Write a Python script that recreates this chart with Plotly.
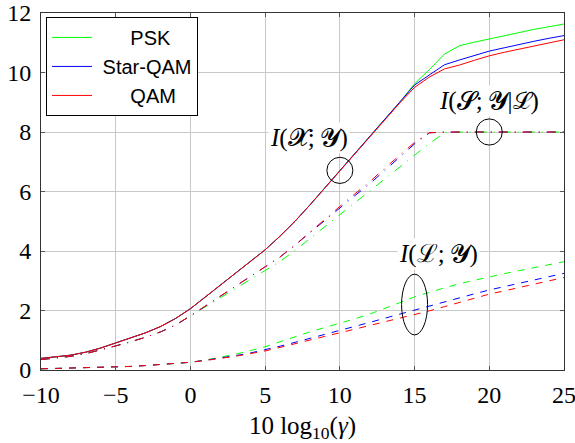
import plotly.graph_objects as go

# SNR axis in dB: 10 log10(gamma)
snr_db = list(range(-10, 26))

# I(X;Y): total mutual information (solid)
mi_total_psk = [0.39, 0.44, 0.50, 0.60, 0.74, 0.91, 1.07, 1.25, 1.46, 1.73,
                2.06, 2.45, 2.85, 3.23, 3.63, 4.04, 4.50, 5.00, 5.55, 6.12,
                6.72, 7.28, 7.84, 8.40, 9.00, 9.62, 10.10, 10.62, 10.90, 11.02,
                11.13, 11.24, 11.35, 11.45, 11.54, 11.63]
mi_total_star = [0.39, 0.44, 0.50, 0.60, 0.74, 0.91, 1.07, 1.25, 1.46, 1.73,
                 2.06, 2.45, 2.85, 3.23, 3.63, 4.04, 4.50, 5.00, 5.55, 6.12,
                 6.72, 7.28, 7.84, 8.40, 9.00, 9.58, 9.92, 10.26, 10.42, 10.57,
                 10.72, 10.83, 10.95, 11.05, 11.15, 11.24]
mi_total_qam = [0.39, 0.44, 0.50, 0.60, 0.74, 0.91, 1.07, 1.25, 1.46, 1.73,
                2.06, 2.45, 2.85, 3.23, 3.63, 4.04, 4.50, 5.00, 5.55, 6.12,
                6.72, 7.28, 7.84, 8.40, 8.97, 9.50, 9.85, 10.12, 10.25, 10.41,
                10.56, 10.68, 10.79, 10.89, 11.00, 11.10]

# I(S;Y|L): conditional mutual information (dash-dotted)
mi_cond_psk = [0.35, 0.40, 0.46, 0.55, 0.67, 0.81, 0.95, 1.10, 1.28, 1.51,
               1.82, 2.12, 2.44, 2.74, 3.04, 3.33, 3.65, 4.02, 4.42, 4.82,
               5.22, 5.62, 6.00, 6.40, 6.80, 7.20, 7.62, 7.97, 8.00, 8.00,
               8.00, 8.00, 8.00, 8.00, 8.00, 8.00]
mi_cond_star = [0.35, 0.40, 0.46, 0.55, 0.67, 0.81, 0.95, 1.10, 1.28, 1.51,
                1.82, 2.15, 2.48, 2.80, 3.12, 3.45, 3.80, 4.20, 4.62, 5.05,
                5.45, 5.86, 6.26, 6.70, 7.15, 7.60, 7.97, 8.00, 8.00, 8.00,
                8.00, 8.00, 8.00, 8.00, 8.00, 8.00]
mi_cond_qam = [0.35, 0.40, 0.46, 0.55, 0.67, 0.81, 0.95, 1.10, 1.28, 1.51,
               1.82, 2.15, 2.48, 2.80, 3.12, 3.45, 3.80, 4.20, 4.64, 5.08,
               5.50, 5.92, 6.33, 6.78, 7.22, 7.65, 7.98, 8.00, 8.00, 8.00,
               8.00, 8.00, 8.00, 8.00, 8.00, 8.00]

# I(L;Y): mutual information of the level bits (dashed)
mi_level_psk = [0.04, 0.05, 0.06, 0.07, 0.08, 0.10, 0.12, 0.15, 0.18, 0.22,
                0.26, 0.33, 0.42, 0.53, 0.65, 0.78, 0.95, 1.12, 1.28, 1.43,
                1.57, 1.72, 1.88, 2.06, 2.26, 2.46, 2.62, 2.76, 2.90, 3.02,
                3.14, 3.24, 3.34, 3.44, 3.54, 3.64]
mi_level_star = [0.04, 0.05, 0.06, 0.07, 0.08, 0.10, 0.12, 0.15, 0.18, 0.22,
                 0.26, 0.33, 0.40, 0.48, 0.57, 0.68, 0.80, 0.93, 1.06, 1.20,
                 1.33, 1.46, 1.60, 1.74, 1.88, 2.02, 2.16, 2.30, 2.43, 2.56,
                 2.69, 2.80, 2.92, 3.03, 3.14, 3.25]
mi_level_qam = [0.04, 0.05, 0.06, 0.07, 0.08, 0.10, 0.12, 0.15, 0.18, 0.22,
                0.26, 0.32, 0.38, 0.46, 0.55, 0.64, 0.76, 0.89, 1.01, 1.13,
                1.25, 1.37, 1.49, 1.61, 1.73, 1.85, 1.99, 2.13, 2.27, 2.41,
                2.55, 2.66, 2.77, 2.89, 3.00, 3.11]

names = ["PSK", "Star-QAM", "QAM"]
colors = ["#00ff00", "#0000ff", "#ff0000"]
total = [mi_total_psk, mi_total_star, mi_total_qam]
cond = [mi_cond_psk, mi_cond_star, mi_cond_qam]
level = [mi_level_psk, mi_level_star, mi_level_qam]

x_ticks = [-10, -5, 0, 5, 10, 15, 20, 25]
y_ticks = [0, 2, 4, 6, 8, 10, 12]

SERIF = "Liberation Serif"
NB = "\u00a0"
legend_labels = [NB * 6 + "PSK", NB + "Star-QAM", NB * 6 + "QAM"]

fig = go.Figure()

for i in range(3):
    fig.add_trace(go.Scatter(
        x=snr_db, y=level[i], mode="lines", showlegend=False,
        line=dict(color=colors[i], width=1, dash="7px,7px"),
    ))
for i in range(3):
    fig.add_trace(go.Scatter(
        x=snr_db, y=cond[i], mode="lines", showlegend=False,
        line=dict(color=colors[i], width=1, dash="9px,7px,1px,7px"),
    ))
for i in range(3):
    fig.add_trace(go.Scatter(
        x=snr_db, y=total[i], mode="lines", name=legend_labels[i],
        line=dict(color=colors[i], width=1),
    ))

# Circles / ellipse marking each group of curves
circle_style = dict(type="circle", xref="x", yref="y",
                    line=dict(color="black", width=1), layer="above")
fig.add_shape(x0=9.13, x1=10.87, y0=6.27, y1=7.15, **circle_style)
fig.add_shape(x0=19.13, x1=20.87, y0=7.56, y1=8.44, **circle_style)
fig.add_shape(x0=14.13, x1=15.87, y0=1.18, y1=3.22, **circle_style)

label_font = dict(family=SERIF, size=25, color="black")
fig.add_annotation(x=7.95, y=7.8, xref="x", yref="y", showarrow=False,
                   text="<i>I</i>(𝓧;\u2009𝓨)", font=label_font,
                   bgcolor="white")
fig.add_annotation(x=20.0, y=9.05, xref="x", yref="y", showarrow=False,
                   text="<i>I</i>(𝓢;\u2009𝓨|ℒ)", font=label_font,
                   bgcolor="white")
fig.add_annotation(x=16.6, y=3.9, xref="x", yref="y", showarrow=False,
                   text="<i>I</i>(ℒ;\u2009𝓨)", font=label_font,
                   bgcolor="white")

axis_common = dict(
    showgrid=True, gridcolor="#c8c8c8", gridwidth=1,
    showline=True, linecolor="#333333", linewidth=1, mirror="allticks",
    ticks="inside", ticklen=4, tickcolor="#555555", tickwidth=1,
    zeroline=False, automargin=False, ticklabeloverflow="allow",
    tickfont=dict(family=SERIF, size=24, color="black"),
)

fig.update_layout(
    width=575, height=443,
    margin=dict(l=41, r=11, t=13, b=73),
    paper_bgcolor="white", plot_bgcolor="white",
    xaxis=dict(range=[-10, 25], tickvals=x_ticks, ticklabelstandoff=3,
               title=dict(text="10 log<sub>10</sub>(<i>γ</i>)",
                          font=dict(family=SERIF, size=25, color="black"),
                          standoff=11),
               **axis_common),
    yaxis=dict(range=[0, 12], tickvals=y_ticks, ticklabelstandoff=4,
               **axis_common),
    legend=dict(x=0.0096, y=0.989, xanchor="left", yanchor="top",
                bgcolor="white", bordercolor="black", borderwidth=1,
                font=dict(family="Liberation Sans", size=20, color="black"),
                itemwidth=40),
    showlegend=True,
)

fig.write_html("out.html")
